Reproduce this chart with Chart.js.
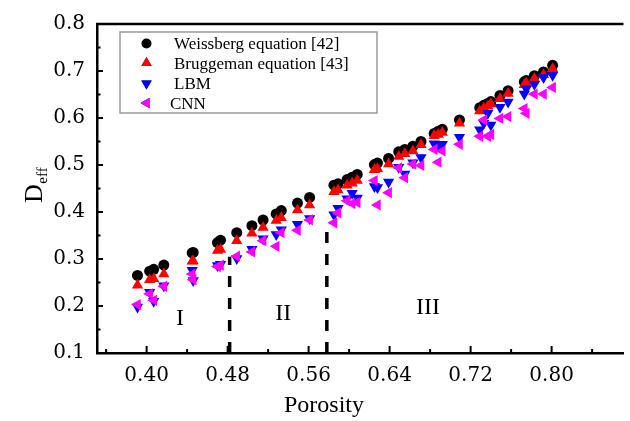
<!DOCTYPE html>
<html><head><meta charset="utf-8">
<script src="https://cdn.jsdelivr.net/npm/chart.js@4/dist/chart.umd.min.js"></script>
<style>html,body{margin:0;padding:0;background:#fff;}#wrap{width:630px;height:421px;position:relative;}</style>
</head><body><div id="wrap"><canvas id="c" width="630" height="421"></canvas></div>
<script>
// ---- data ----
const porosity  = [0.391,0.403,0.407,0.417,0.445,0.446,0.470,0.473,0.489,0.504,0.515,0.528,0.533,0.549,0.561,
                   0.585,0.589,0.598,0.603,0.608,0.625,0.628,0.639,0.649,0.655,0.663,0.671,0.684,0.688,0.692,0.709,
                   0.729,0.733,0.737,0.740,0.749,0.757,0.773,0.775,0.783,0.792,0.801];
const weissberg = [0.265,0.274,0.278,0.287,0.313,0.314,0.335,0.340,0.356,0.371,0.383,0.396,0.403,0.419,0.431,
                   0.457,0.460,0.469,0.474,0.480,0.501,0.504,0.514,0.528,0.533,0.540,0.550,0.567,0.572,0.576,0.596,
                   0.622,0.627,0.631,0.635,0.648,0.658,0.677,0.680,0.690,0.698,0.712];
const bruggeman = [0.244,0.256,0.258,0.268,0.295,0.296,0.318,0.320,0.339,0.355,0.367,0.382,0.388,0.404,0.415,
                   0.443,0.447,0.457,0.461,0.467,0.490,0.492,0.502,0.518,0.524,0.530,0.543,0.562,0.565,0.569,0.589,
                   0.615,0.621,0.625,0.630,0.641,0.652,0.671,0.674,0.684,0.692,0.705];
const lbm       = [0.198,0.229,0.210,0.243,0.276,0.254,0.286,0.289,0.301,0.321,0.343,0.352,0.362,0.374,0.386,
                   0.394,0.408,0.428,0.440,0.430,0.454,0.452,0.464,0.495,0.481,0.505,0.516,0.545,0.540,0.544,0.559,
                   0.575,0.589,0.610,0.585,0.623,0.634,0.651,0.662,0.672,0.686,0.691];
const cnn       = [0.203,0.226,0.212,0.242,0.268,0.256,0.284,0.287,0.306,0.315,0.339,0.327,0.356,0.361,0.383,
                   0.377,0.398,0.424,0.418,0.420,0.467,0.415,0.441,0.494,0.473,0.502,0.499,0.533,0.506,0.530,0.544,
                   0.561,0.596,0.561,0.565,0.599,0.603,0.620,0.610,0.651,0.651,0.665];
const seriesNames = ['Weissberg equation [42]','Bruggeman equation [43]','LBM','CNN'];
const xTickLabels = [0.40,0.48,0.56,0.64,0.72,0.80];
const xMinorTicks = [0.36,0.44,0.52,0.60,0.68,0.76,0.84];
const yTickLabels = [0.1,0.2,0.3,0.4,0.5,0.6,0.7,0.8];
const yMinorTicks = [0.15,0.25,0.35,0.45,0.55,0.65,0.75];
const boundaryX   = [0.482,0.578];
const boundaryTop = [0.305,0.38];
const regionNames = ['I','II','III'];
const regionX     = [0.433,0.535,0.678];
const regionY     = [0.173,0.183,0.196];

const pts = ys => porosity.map((x,i)=>({x:x,y:ys[i]}));

const datasets = [
  {label:seriesNames[0],data:pts(weissberg),pointStyle:'circle',pointRadius:5.5,rotation:0,backgroundColor:'#000',borderColor:'#000',borderWidth:0,showLine:false,order:4},
  {label:seriesNames[1],data:pts(bruggeman),pointStyle:'triangle',pointRadius:6.5,rotation:0,backgroundColor:'#ff0000',borderColor:'#ff0000',borderWidth:0,showLine:false,order:3},
  {label:seriesNames[2],data:pts(lbm),pointStyle:'triangle',pointRadius:6.5,rotation:180,backgroundColor:'#0000ff',borderColor:'#0000ff',borderWidth:0,showLine:false,order:2},
  {label:seriesNames[3],data:pts(cnn),pointStyle:'triangle',pointRadius:6.5,rotation:270,backgroundColor:'#ff00ff',borderColor:'#ff00ff',borderWidth:0,showLine:false,order:1}
];
boundaryX.forEach((bx,i)=>{
  datasets.push({label:'',isBoundary:true,type:'line',data:[{x:bx,y:0.1},{x:bx,y:boundaryTop[i]}],
    showLine:true,borderColor:'#000',borderWidth:3.5,borderDash:[11,11],pointRadius:0,fill:false,order:5});
});

const decor = {
  id:'decor',
  afterDatasetsDraw(chart){
    const ctx = chart.ctx, a = chart.chartArea, xs = chart.scales.x, ys = chart.scales.y;
    ctx.save();
    ctx.strokeStyle='#000'; ctx.lineWidth=2.5;
    ctx.beginPath(); ctx.moveTo(a.left-1, a.top); ctx.lineTo(a.right, a.top); ctx.stroke();
    ctx.lineWidth=2;
    ctx.beginPath();
    xTickLabels.forEach(v=>{const p=xs.getPixelForValue(v); ctx.moveTo(p,a.bottom); ctx.lineTo(p,a.bottom-7);});
    xMinorTicks.forEach(v=>{const p=xs.getPixelForValue(v); if(p<a.right){ctx.moveTo(p,a.bottom); ctx.lineTo(p,a.bottom-4);}});
    yTickLabels.forEach(v=>{const p=ys.getPixelForValue(v); ctx.moveTo(a.left,p); ctx.lineTo(a.left+6,p);});
    yMinorTicks.forEach(v=>{const p=ys.getPixelForValue(v); ctx.moveTo(a.left,p); ctx.lineTo(a.left+3.5,p);});
    ctx.stroke();
    // region labels
    ctx.fillStyle='#000'; ctx.font='24px "Liberation Serif", "Times New Roman", serif';
    ctx.textAlign='center'; ctx.textBaseline='middle';
    regionNames.forEach((t,i)=>ctx.fillText(t, xs.getPixelForValue(regionX[i]), ys.getPixelForValue(regionY[i])));
    // x title
    ctx.font='24px "Liberation Serif", "Times New Roman", serif';
    ctx.textBaseline='alphabetic';
    ctx.fillText('Porosity', a.left+227, a.bottom+59);
    // y title D_eff
    ctx.save();
    ctx.translate(42, 203); ctx.rotate(-Math.PI/2);
    ctx.textAlign='left';
    ctx.font='26px "Liberation Serif", "Times New Roman", serif';
    ctx.fillText('D',0,0);
    const dw = ctx.measureText('D').width;
    ctx.font='15px "Liberation Serif", "Times New Roman", serif';
    ctx.fillText('eff', dw+0.5, 5);
    ctx.restore();
    // legend
    const L=120, T=32, R=377, B=113;
    ctx.fillStyle='#fff'; ctx.fillRect(L,T,R-L,B-T);
    ctx.strokeStyle='#9a9a9a'; ctx.lineWidth=1.5; ctx.strokeRect(L,T,R-L,B-T);
    const rows=[43.5,63,83.5,103];
    chart.data.datasets.filter(d=>!d.isBoundary).forEach((d,i)=>{
      Chart.helpers.drawPoint(ctx,{pointStyle:d.pointStyle,rotation:d.rotation,radius:d.pointStyle==='circle'?5:6,borderWidth:0},146.5,rows[i]);
      ctx.fillStyle=d.backgroundColor; ctx.fill();
      ctx.fillStyle='#000'; ctx.font='17px "Liberation Serif", "Times New Roman", serif';
      ctx.textAlign='left'; ctx.textBaseline='alphabetic';
      ctx.fillText(d.label, i===3?170:174, rows[i]+5.5);
    });
    ctx.restore();
  }
};

const tickFont = {family:'"DejaVu Serif", serif', size:20};
new Chart(document.getElementById('c'),{
  type:'scatter',
  data:{datasets:datasets},
  options:{
    responsive:false, animation:false, devicePixelRatio:1,
    layout:{padding:{top:17,right:0,left:0,bottom:0}},
    plugins:{legend:{display:false},tooltip:{enabled:false}},
    scales:{
      x:{type:'linear',min:0.351,max:0.871,
        afterBuildTicks:s=>{s.ticks=xTickLabels.map(v=>({value:v}));},
        afterFit:s=>{s.height=68;},
        grid:{display:false,drawTicks:false},
        border:{display:true,color:'#000',width:2.5},
        ticks:{callback:v=>Number(v).toFixed(2),font:tickFont,color:'#000',padding:11,maxRotation:0,autoSkip:false}},
      y:{type:'linear',min:0.1,max:0.8,
        afterBuildTicks:s=>{s.ticks=yTickLabels.map(v=>({value:v}));},
        afterFit:s=>{s.width=97;},
        grid:{display:false,drawTicks:false},
        border:{display:true,color:'#000',width:2.5},
        ticks:{callback:v=>Number(v).toFixed(1),font:tickFont,color:'#000',padding:12,autoSkip:false}}
    }
  },
  plugins:[decor]
});
</script></body></html>
